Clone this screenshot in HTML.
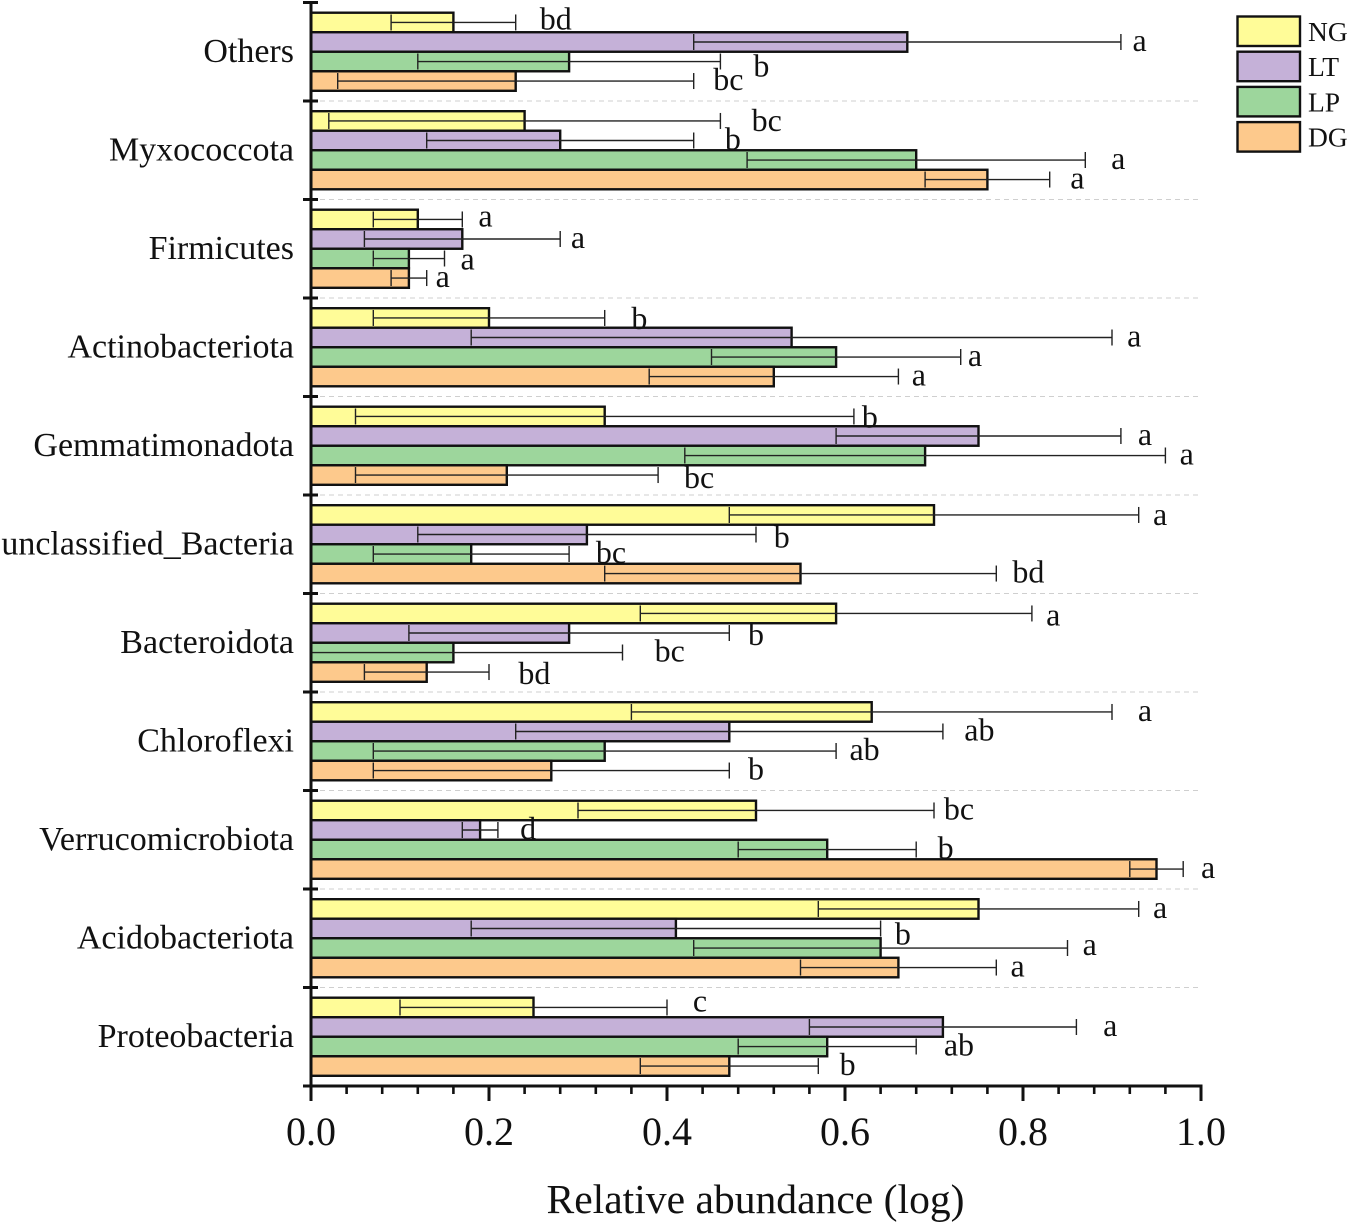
<!DOCTYPE html>
<html lang="en">
<head>
<meta charset="utf-8">
<title>Relative abundance by phylum</title>
<style>
html,body{margin:0;padding:0;background:#fff;width:1350px;height:1223px;overflow:hidden}
svg{display:block;font-family:"Liberation Serif",serif}
</style>
</head>
<body>
<svg id="chart" xmlns="http://www.w3.org/2000/svg" width="1350" height="1223" viewBox="0 0 1350 1223"></svg>
<script>
const categories = ["Others","Myxococcota","Firmicutes","Actinobacteriota","Gemmatimonadota","unclassified_Bacteria","Bacteroidota","Chloroflexi","Verrucomicrobiota","Acidobacteriota","Proteobacteria"];
const seriesNames = ["NG","LT","LP","DG"];
const seriesColors = ["#FFFC98","#C5B1D8","#9DD69C","#FDC98C"];
const valuesNG = [0.16,0.24,0.12,0.20,0.33,0.70,0.59,0.63,0.50,0.75,0.25];
const valuesLT = [0.67,0.28,0.17,0.54,0.75,0.31,0.29,0.47,0.19,0.41,0.71];
const valuesLP = [0.29,0.68,0.11,0.59,0.69,0.18,0.16,0.33,0.58,0.64,0.58];
const valuesDG = [0.23,0.76,0.11,0.52,0.22,0.55,0.13,0.27,0.95,0.66,0.47];
const errorsNG = [0.07,0.22,0.05,0.13,0.28,0.23,0.22,0.27,0.20,0.18,0.15];
const errorsLT = [0.24,0.15,0.11,0.36,0.16,0.19,0.18,0.24,0.02,0.23,0.15];
const errorsLP = [0.17,0.19,0.04,0.14,0.27,0.11,0.19,0.26,0.10,0.21,0.10];
const errorsDG = [0.20,0.07,0.02,0.14,0.17,0.22,0.07,0.20,0.03,0.11,0.10];
const lettersNG = ["bd","bc","a","b","b","a","a","a","bc","a","c"];
const lettersLT = ["a","b","a","a","a","b","b","ab","d","b","a"];
const lettersLP = ["b","a","a","a","a","bc","bc","ab","b","a","ab"];
const lettersDG = ["bc","a","a","a","bc","bd","bd","b","a","a","b"];
const letterAtNG = [0.275,0.512,0.196,0.369,0.628,0.954,0.834,0.937,0.728,0.954,0.437];
const letterAtLT = [0.931,0.474,0.300,0.925,0.937,0.529,0.500,0.751,0.244,0.665,0.898];
const letterAtLP = [0.506,0.907,0.176,0.746,0.984,0.337,0.403,0.622,0.713,0.875,0.728];
const letterAtDG = [0.469,0.861,0.148,0.683,0.436,0.806,0.251,0.500,1.008,0.794,0.603];
const xTickLabels = ["0.0","0.2","0.4","0.6","0.8","1.0"];
const xMinorStep = 0.04;
const xAxisTitle = "Relative abundance (log)";

const values = [valuesNG,valuesLT,valuesLP,valuesDG];
const errors = [errorsNG,errorsLT,errorsLP,errorsDG];
const letters = [lettersNG,lettersLT,lettersLP,lettersDG];
const letterAt = [letterAtNG,letterAtLT,letterAtLP,letterAtDG];

const svg = document.getElementById('chart');
const NS = 'http://www.w3.org/2000/svg';
const X0 = 311, XW = 890, YTOP = 2.5, YBOTTOM = 1086;
const BAND = (YBOTTOM - YTOP) / categories.length;
const PAD = 10.2;
const SLOT = (BAND - 2 * PAD) / seriesNames.length;
/* manual vertical label adjustments, keyed by category,series */
const letterAdjust = {"0,0":-2,"0,2":6,"1,0":1,"2,0":-2,"2,2":2,"3,0":2,"4,0":2,"4,3":4,"5,0":1,"5,1":4,"6,0":3,"6,1":3,"6,3":3,"9,1":7,"9,2":-2,"10,0":-5};
function xScale(v){ return X0 + v * XW; }
function bandTop(i){ return YTOP + i * BAND; }
function slotTop(i, s){ return bandTop(i) + PAD + s * SLOT; }
function make(tag, attrs, text){
  const el = document.createElementNS(NS, tag);
  for (const k in attrs) el.setAttribute(k, attrs[k]);
  if (text !== undefined) el.textContent = text;
  svg.appendChild(el);
  return el;
}
function line(x1, y1, x2, y2, stroke, w, extra){
  return make('line', Object.assign({x1:x1, y1:y1, x2:x2, y2:y2, stroke:stroke, 'stroke-width':w}, extra || {}));
}

/* separators */
categories.forEach((c, i) => {
  if (i === 0) return;
  const sep = line(X0, bandTop(i), 1199, bandTop(i), '#cfcfcf', 1, {'stroke-dasharray':'5 4'});
  
  
});

/* bars */
categories.forEach((c, i) => {
  seriesNames.forEach((s, j) => {
    const bar = make('rect', {x:xScale(0), y:slotTop(i,j), width:xScale(values[j][i]) - xScale(0), height:SLOT, fill:seriesColors[j], stroke:'#111', 'stroke-width':2.4});
    
    
  });
});

/* error bars and letters */
categories.forEach((c, i) => {
  seriesNames.forEach((s, j) => {
    const v = values[j][i], e = errors[j][i];
    const cy = slotTop(i,j) + SLOT / 2;
    const lo = Math.max(0, v - e), hi = v + e;
    const stem = line(xScale(lo), cy, xScale(hi), cy, '#222', 1.4);
    
    
    const capHi = line(xScale(hi), cy - 8, xScale(hi), cy + 8, '#222', 1.4);
    
    
    if (v - e > 0) {
      const capLo = line(xScale(lo), cy - 8, xScale(lo), cy + 8, '#222', 1.4);
      
      
    }
    const adj = letterAdjust[i + ',' + j] || 0;
    const lab = make('text', {x:xScale(letterAt[j][i]), y:cy + 9 + adj, 'text-anchor':'middle', 'font-size':32, fill:'#111'}, letters[j][i]);
    
    
  });
});

/* y axis */
const yAxis = line(X0, YTOP - 1.5, X0, YBOTTOM + 15, '#111', 3);


for (let i = 0; i <= categories.length; i++) {
  const isLast = i === categories.length;
  const t = line(303, bandTop(i), isLast ? X0 : 318, bandTop(i), '#111', 3);
  
  
}
categories.forEach((c, i) => {
  const lab = make('text', {x:294, y:bandTop(i) + BAND / 2 + 10, 'text-anchor':'end', 'font-size':34, fill:'#111'}, c);
  
  
});

/* x axis */
const xAxis = line(303, YBOTTOM, xScale(1) + 1.5, YBOTTOM, '#111', 3);


const minorCount = Math.round(1 / xMinorStep);
for (let k = 1; k < minorCount; k++) {
  if (k % 5 === 0) continue;
  const m = line(xScale(k * xMinorStep), YBOTTOM, xScale(k * xMinorStep), YBOTTOM + 8, '#111', 2.6);
  
  
}
xTickLabels.forEach(lbl => {
  const v = parseFloat(lbl);
  const t = line(xScale(v), YBOTTOM, xScale(v), YBOTTOM + 15, '#111', 3);
  
  
  const txt = make('text', {x:xScale(v), y:1145, 'text-anchor':'middle', 'font-size':40, fill:'#111'}, lbl);
  
  
});
const title = make('text', {x:755.5, y:1213, 'text-anchor':'middle', 'font-size':41.6, fill:'#111'}, xAxisTitle);



/* legend */
seriesNames.forEach((s, j) => {
  const top = 16.5 + j * 35.2;
  const sw = make('rect', {x:1237.5, y:top, width:62.5, height:29.5, fill:seriesColors[j], stroke:'#111', 'stroke-width':2.4});
  
  
  const txt = make('text', {x:1308, y:top + 24.5, 'font-size':27.5, fill:'#111'}, s);
  
  
});
</script>
</body>
</html>
